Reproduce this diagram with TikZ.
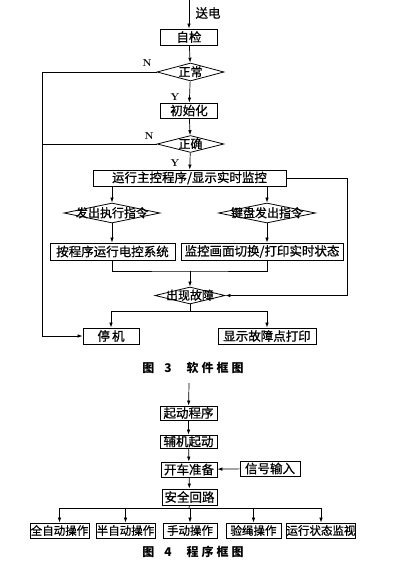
\documentclass[tikz,border=0pt]{standalone}
\usepackage{fontspec}
\usepackage{tikz}
\usetikzlibrary{shapes.geometric,arrows.meta}
\newfontfamily\cjk[FakeBold=0.8]{Noto Sans CJK SC}
\newfontfamily\cjkcap{Noto Sans CJK SC}
\newcommand{\dtxt}[1]{\smash{\makebox[0pt]{\raisebox{-0.36em}{#1}}}}

\begin{document}
\begin{tikzpicture}[x=1pt,y=-1pt,line width=0.7pt,>={Latex[length=5pt,width=3.5pt]},
	box/.style={draw,line width=0.8pt,inner sep=0pt,minimum height=16pt,font=\cjk\fontsize{12.5}{14}\selectfont},
	sbox/.style={box,minimum height=15pt,font=\cjk\fontsize{11.5}{13}\selectfont},
	dec/.style={diamond,draw,line width=0.8pt,inner sep=0pt,font=\cjk\fontsize{12}{14}\selectfont},
	yn/.style={inner sep=0pt,font=\bfseries\fontsize{10}{12}\selectfont},
	captext/.style={inner sep=0pt,font=\cjkcap\bfseries\fontsize{12}{14}\selectfont}]
			\useasboundingbox (0,0) rectangle (400,573);

			% software block diagram
			\coordinate (start) at (189,0);
			\node[box,minimum width=57pt] (zj) at (189,37) {自检};
			\node[dec,minimum width=67pt,minimum height=18pt] (zc) at (190.5,72) {\dtxt{正常}};
			\node[box,minimum width=57pt,minimum height=15pt] (csh) at (189,110.5) {初始化};
			\node[dec,minimum width=67pt,minimum height=17pt] (zq) at (190.5,144) {\dtxt{正确}};
			\node[box,minimum width=193pt] (main) at (189.5,178) {运行主控程序/显示实时监控};
			\node[dec,minimum width=96pt,minimum height=20pt] (fc) at (112,213) {\dtxt{发出执行指令}};
			\node[dec,minimum width=97pt,minimum height=20pt] (jp) at (267,213) {\dtxt{键盘发出指令}};
			\node[box,minimum width=125pt,minimum height=17pt] (acx) at (112.5,251.5) {按程序运行电控系统};
			\node[box,minimum width=162pt,minimum height=17pt] (jk) at (262,251.5) {监控画面切换/打印实时状态};
			\node[dec,minimum width=70pt,minimum height=17pt] (gz) at (190,295.5) {\dtxt{出现故障}};
			\node[box,minimum width=56pt] (tj) at (111,336) {停\,机};
			\node[box,minimum width=98pt] (xs) at (267,336) {显示故障点打印};
			\node[captext] (cap1) at (193,368) {图\hspace{10pt}3\hspace{15pt}软\hspace{3pt}件\hspace{3pt}框\hspace{3pt}图};

			\node[inner sep=0pt,font=\cjk\fontsize{12.5}{14}\selectfont] (sd) at (208,13) {送电};
			\node[yn] (n1) at (147,63) {N};
			\node[yn] (y1) at (175,97) {Y};
			\node[yn] (n2) at (149,136) {N};
			\node[yn] (y2) at (175,163) {Y};

			\draw[->] (start) -- (zj);
			\draw[->] (zj) -- (zc);
			\draw[->] (zc) -- (csh);
			\draw[->] (csh) -- (zq);
			\draw[->] (zq) -- (main);
			\coordinate (lft) at (42,72);
			\draw[->] (zc.west) -- (lft) |- (tj.west);
			\draw (zq.west) -- (lft |- zq.west);
			\coordinate (rgt) at (347,178);
			\draw[->] (main.east) -- (rgt) |- (gz.east);
			\draw[->] (main.south -| fc.north) -- (fc.north);
			\draw[->] (main.south -| jp.north) -- (jp.north);
			\draw[->] (fc.south) -- (fc.south |- acx.north);
			\draw[->] (jp.south) -- (jp.south |- jk.north);
			\coordinate (hb) at (190,271);
			\draw (fc.south |- acx.south) |- (hb) -| (jp.south |- jk.south);
			\draw[->] (hb) -- (gz.north);
			\coordinate (hc) at (190,311);
			\draw (gz.south) -- (hc);
			\draw[->] (hc) -| (tj.north);
			\draw[->] (hc) -| (xs.north);

			% program block diagram
			\coordinate (start2) at (189,383);
			\node[sbox,minimum width=57pt,minimum height=14pt,font=\cjk\fontsize{12.5}{14}\selectfont] (qd) at (188.5,413) {起动程序};
			\node[sbox,minimum width=57pt,minimum height=13pt,font=\cjk\fontsize{12.5}{14}\selectfont] (fj) at (188.5,441.5) {辅机起动};
			\node[sbox,minimum width=56pt,font=\cjk\fontsize{12.5}{14}\selectfont] (kc) at (189,469.5) {开车准备};
			\node[sbox,minimum width=60pt,font=\cjk\fontsize{12.5}{14}\selectfont] (xh) at (270,468.5) {信号输入};
			\node[sbox,minimum width=55pt,minimum height=16pt,font=\cjk\fontsize{12.5}{14}\selectfont] (aq) at (189.5,497) {安全回路};
			\node[sbox,minimum width=59pt] (qz) at (59.5,530.5) {全自动操作};
			\node[sbox,minimum width=59pt] (bz) at (125.5,530.5) {半自动操作};
			\node[sbox,minimum width=54pt] (sdc) at (190,530.5) {手动操作};
			\node[sbox,minimum width=55pt] (ys) at (253.5,530.5) {验绳操作};
			\node[sbox,minimum width=68pt] (yx) at (321,530.5) {运行状态监视};
			\node[captext] (cap2) at (193,552) {图\hspace{10pt}4\hspace{15pt}程\hspace{3pt}序\hspace{3pt}框\hspace{3pt}图};

			\draw[->] (start2) -- (qd);
			\draw[->] (qd) -- (fj);
			\draw[->] (fj) -- (kc);
			\draw[->] (xh) -- (kc);
			\draw[->] (kc) -- (aq);
			\coordinate (hd) at (189,508);
			\draw (aq.south) -- (hd);
			\draw (hd -| qz.north) -- (hd -| yx.north);
			\foreach \n in {qz,bz,sdc,ys,yx}
				\draw[->] (hd -| \n.north) -- (\n.north);
		\end{tikzpicture}
\end{document}
